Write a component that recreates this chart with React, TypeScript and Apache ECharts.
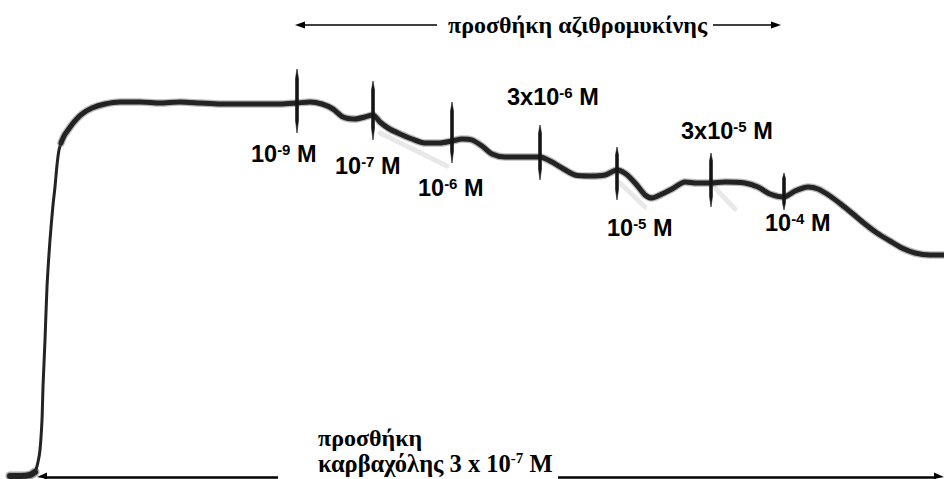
import React, { useEffect, useRef } from "react";
import * as echarts from "echarts";

// Recorded isometric tension trace (time in chart units, tension in chart units)
const traceTime = [
  10, 20, 30, 35, 38, 40, 42, 43, 45, 47, 50, 53, 55, 57, 59, 61, 64, 68, 74, 82, 92, 105, 120, 140, 160,
  180, 200, 220, 240, 260, 280, 297, 310, 322, 333, 343, 355, 365, 373, 380, 388, 400, 412, 425, 440, 452,
  462, 472, 482, 492, 505, 520, 540, 552, 562, 575, 590, 605, 617, 626, 636, 645, 652, 660, 672, 685, 697,
  710, 725, 745, 758, 770, 784, 795, 808, 818, 830, 842, 853, 865, 877, 890, 902, 915, 930, 944,
];
const traceTension = [
  3, 3, 4, 7, 17, 29, 59, 92, 139, 192, 239, 274, 292, 314, 329, 336, 343, 349, 357, 365, 371, 375, 377, 377,
  376, 377, 376, 375, 375, 375, 375, 376, 377, 375, 370, 362, 360, 362, 364, 357, 351, 345, 340, 336, 336,
  338, 340, 339, 333, 325, 322, 322, 322, 317, 311, 304, 303, 304, 309, 305, 295, 284, 281, 284, 290, 297,
  296, 296, 297, 296, 292, 285, 282, 288, 292, 290, 283, 274, 265, 255, 246, 238, 231, 226, 224, 224,
];
// index ranges of trace phases
const baselineEnd = 3; // resting baseline before carbachol
const riseEnd = 15; // end of the fast contraction

// azithromycin additions
const doseTime = [297, 373, 452, 540, 617, 711, 784];
const tickTop = [410, 398, 377, 354, 332, 326, 306];
const tickBottom = [346, 339, 316, 299, 279, 272, 269];
const doseCoef = ["", "", "", "3x", "", "3x", ""];
const doseExp = ["-9", "-7", "-6", "-6", "-5", "-5", "-4"];
// label anchors (left edge time, centre tension)
const labelTime = [251, 335, 418, 507, 607, 681, 765];
const labelTension = [325, 313, 291, 382, 251, 348, 256];

// faint pen smudges below some additions
const smudgeStart = [[380, 346], [620, 296], [714, 292]];
const smudgeEnd = [[447, 313], [645, 272], [735, 270]];

const topText = "προσθήκη αζιθρομυκίνης";
const bottomLine1 = "προσθήκη";
const bottomLine2 = "καρβαχόλης 3 x 10";
const bottomExp = "-7";

const pairs = (a: number[], b: number[], s: number, e: number) =>
  a.slice(s, e + 1).map((v, i) => [v, b[s + i]]);

export default function App() {
  const ref = useRef<HTMLDivElement>(null);
  useEffect(() => {
    if (!ref.current) return;
    const chart = echarts.init(ref.current, undefined, { renderer: "svg" });
    const baseline = pairs(traceTime, traceTension, 0, baselineEnd);
    const rise = pairs(traceTime, traceTension, baselineEnd - 1, riseEnd);
    const plateau = pairs(traceTime, traceTension, riseEnd, traceTime.length - 1);
    const pen = "#232323";
    const lineSeries = (data: number[][], width: number, color: string, opacity = 1) => ({
      type: "line",
      data,
      showSymbol: false,
      symbol: "none",
      smooth: 0.25,
      silent: true,
      lineStyle: { width, color, opacity, cap: "round", join: "round" },
      z: 2,
    });
    const serif = "'Liberation Serif', 'Times New Roman', serif";
    const sans = "'Liberation Sans', Arial, sans-serif";
    const tickData = doseTime.map((t, i) => [t, tickTop[i], tickBottom[i]]);
    const labelData = labelTime.map((t, i) => [t, labelTension[i], i]);
    const smudgeData = smudgeStart.map((s, i) => [s[0], s[1], smudgeEnd[i][0], smudgeEnd[i][1]]);
    chart.setOption({
      animation: false,
      backgroundColor: "#ffffff",
      grid: { left: 0, right: 0, top: 0, bottom: 0 },
      xAxis: { type: "value", min: 0, max: 944, show: false },
      yAxis: { type: "value", min: 0, max: 479, show: false },
      series: [
        {
          type: "custom",
          silent: true,
          z: 1,
          data: smudgeData,
          renderItem: (_p: any, api: any) => {
            const a = api.coord([api.value(0), api.value(1)]);
            const b = api.coord([api.value(2), api.value(3)]);
            return {
              type: "line",
              shape: { x1: a[0], y1: a[1], x2: b[0], y2: b[1] },
              style: { stroke: "rgba(0,0,0,0.09)", lineWidth: 5, lineCap: "round" },
            };
          },
        },
        lineSeries(baseline, 9, "#555", 0.5),
        lineSeries(baseline, 6, pen),
        lineSeries(rise, 3, pen),
        lineSeries(plateau, 7.5, "#666", 0.45),
        lineSeries(plateau, 5, pen),
        {
          type: "custom",
          silent: true,
          z: 3,
          data: tickData,
          renderItem: (_p: any, api: any) => {
            const t = api.value(0);
            const a = api.coord([t, api.value(1)]);
            const b = api.coord([t, api.value(2)]);
            const len = b[1] - a[1];
            const x = a[0];
            return {
              type: "polygon",
              shape: {
                points: [
                  [x, a[1]],
                  [x + 1.5, a[1] + len * 0.15],
                  [x + 1.5, a[1] + len * 0.8],
                  [x, b[1]],
                  [x - 1.5, a[1] + len * 0.8],
                  [x - 1.5, a[1] + len * 0.15],
                ],
              },
              style: { fill: "#151515", stroke: "#151515", lineWidth: 0.6 },
            };
          },
        },
        {
          type: "custom",
          silent: true,
          z: 4,
          data: labelData,
          renderItem: (_p: any, api: any) => {
            const p = api.coord([api.value(0), api.value(1)]);
            const i = api.value(2);
            return {
              type: "text",
              style: {
                x: p[0],
                y: p[1],
                align: "left",
                verticalAlign: "middle",
                text: `{b|${doseCoef[i]}10}{s|${doseExp[i]}}{b| M}`,
                rich: {
                  b: { fontSize: 23.5, fontWeight: "bold", fontFamily: sans, fill: "#000", lineHeight: 25 },
                  s: {
                    fontSize: 15,
                    fontWeight: "bold",
                    fontFamily: sans,
                    fill: "#000",
                    lineHeight: 15,
                    verticalAlign: "top",
                  },
                },
              },
            };
          },
        },
      ],
      graphic: [
        { type: "line", shape: { x1: 302, y1: 25, x2: 437, y2: 25 }, style: { stroke: "#000", lineWidth: 1.5 } },
        {
          type: "polygon",
          shape: { points: [[295, 25], [305, 21.5], [305, 28.5]] },
          style: { fill: "#000" },
        },
        {
          type: "text",
          x: 448,
          y: 25,
          style: {
            text: topText,
            fontSize: 24,
            fontWeight: "bold",
            fontFamily: serif,
            fill: "#000",
            align: "left",
            verticalAlign: "middle",
          },
        },
        { type: "line", shape: { x1: 713, y1: 25, x2: 774, y2: 25 }, style: { stroke: "#000", lineWidth: 1.5 } },
        {
          type: "polygon",
          shape: { points: [[781, 25], [771, 21.5], [771, 28.5]] },
          style: { fill: "#000" },
        },
        {
          type: "text",
          x: 318,
          y: 438,
          style: {
            text: bottomLine1,
            fontSize: 24,
            fontWeight: "bold",
            fontFamily: serif,
            fill: "#000",
            align: "left",
            verticalAlign: "middle",
          },
        },
        {
          type: "text",
          x: 318,
          y: 463,
          style: {
            text: `{b|${bottomLine2}}{s|${bottomExp}}{b| M}`,
            align: "left",
            verticalAlign: "middle",
            rich: {
              b: { fontSize: 24.5, fontWeight: "bold", fontFamily: serif, fill: "#000", lineHeight: 26 },
              s: {
                fontSize: 15,
                fontWeight: "bold",
                fontFamily: serif,
                fill: "#000",
                lineHeight: 15,
                verticalAlign: "top",
              },
            },
          },
        },
        { type: "line", shape: { x1: 44, y1: 477.5, x2: 278, y2: 477.5 }, style: { stroke: "#000", lineWidth: 2.5 } },
        {
          type: "polygon",
          shape: { points: [[37, 477], [47, 472.5], [47, 479]] },
          style: { fill: "#000" },
        },
        { type: "line", shape: { x1: 558, y1: 477.5, x2: 936, y2: 477.5 }, style: { stroke: "#000", lineWidth: 2.5 } },
        {
          type: "polygon",
          shape: { points: [[944, 477], [934, 472.5], [934, 479]] },
          style: { fill: "#000" },
        },
      ],
    });
    return () => chart.dispose();
  }, []);
  return (
    <div
      ref={ref}
      style={{ position: "fixed", left: 0, top: 0, width: 944, height: 479, background: "#fff" }}
    />
  );
}
